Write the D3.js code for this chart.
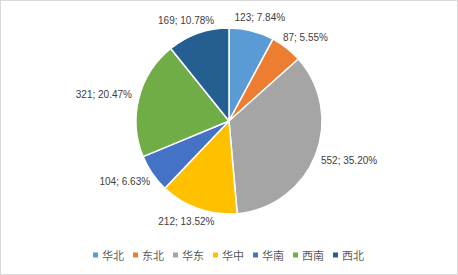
<!DOCTYPE html>
<html>
<head>
<meta charset="utf-8">
<script src="https://cdn.jsdelivr.net/npm/d3@7"></script>
<style>
  body { margin: 0; background: #fff; }
  svg { display: block; }
</style>
</head>
<body>
<script>
// data
const regions = ["华北", "东北", "华东", "华中", "华南", "西南", "西北"];
const counts = [123, 87, 552, 212, 104, 321, 169];
const pctLabels = ["7.84%", "5.55%", "35.20%", "13.52%", "6.63%", "20.47%", "10.78%"];
const colors = ["#5b9bd5", "#ed7d31", "#a5a5a5", "#ffc000", "#4472c4", "#70ad47", "#255e91"];

const w = 458;
const h = 275;
const cx = 229, cy = 121, r = 93;

const svg = d3.select("body").append("svg").attr("width", w).attr("height", h);

// chart border
svg.append("rect")
  .attr("x", 0.5).attr("y", 0.5)
  .attr("width", w - 1).attr("height", h - 1)
  .attr("fill", "#fff")
  .attr("stroke", "#d9d9d9");

const data = regions.map((name, i) => ({ name, value: counts[i], pct: pctLabels[i], color: colors[i] }));

const pie = d3.pie().value((d) => d.value).sort(null);
const arc = d3.arc().innerRadius(0).outerRadius(r);
const arcs = pie(data);

const g = svg.append("g").attr("transform", `translate(${cx},${cy})`);

g.selectAll("path")
  .data(arcs)
  .enter()
  .append("path")
  .attr("d", arc)
  .attr("fill", (d) => d.data.color)
  .attr("stroke", "#fff")
  .attr("stroke-width", 1.5)
  .attr("stroke-linejoin", "round");

// labels outside end
const labels = g.selectAll("text.lbl")
  .data(arcs)
  .enter()
  .append("text")
  .attr("class", "lbl")
  .attr("font-family", "'Liberation Sans', Arial, sans-serif")
  .attr("font-size", 10)
  .attr("fill", "#404040")
  .attr("text-anchor", "middle")
  .attr("dominant-baseline", "central")
  .text((d) => d.data.value + "; " + d.data.pct);

labels.each(function (d) {
  const a = (d.startAngle + d.endAngle) / 2;
  const bb = this.getBBox();
  const rr = r + 8;
  const x = rr * Math.sin(a) + (bb.width / 2) * Math.sin(a);
  const y = -rr * Math.cos(a) - (bb.height / 2) * Math.cos(a);
  d3.select(this).attr("x", x).attr("y", y);
});

// legend
const step = 40;
const legendW = step * (regions.length - 1) + 32;
const lx = d3.scalePoint()
  .domain(regions)
  .range([(w - legendW) / 2, (w - legendW) / 2 + step * (regions.length - 1)]);

const leg = svg.append("g").attr("transform", "translate(0,255)");
const items = leg.selectAll("g")
  .data(data)
  .enter()
  .append("g")
  .attr("transform", (d) => `translate(${lx(d.name)},0)`);

items.append("rect")
  .attr("x", 0).attr("y", -2.5)
  .attr("width", 5).attr("height", 5)
  .attr("fill", (d) => d.color);

items.append("text")
  .attr("x", 9)
  .attr("y", 0)
  .attr("dominant-baseline", "central")
  .attr("font-family", "'Noto Sans CJK SC', sans-serif")
  .attr("font-size", 11)
  .attr("fill", "#595959")
  .text((d) => d.name);
</script>
</body>
</html>
